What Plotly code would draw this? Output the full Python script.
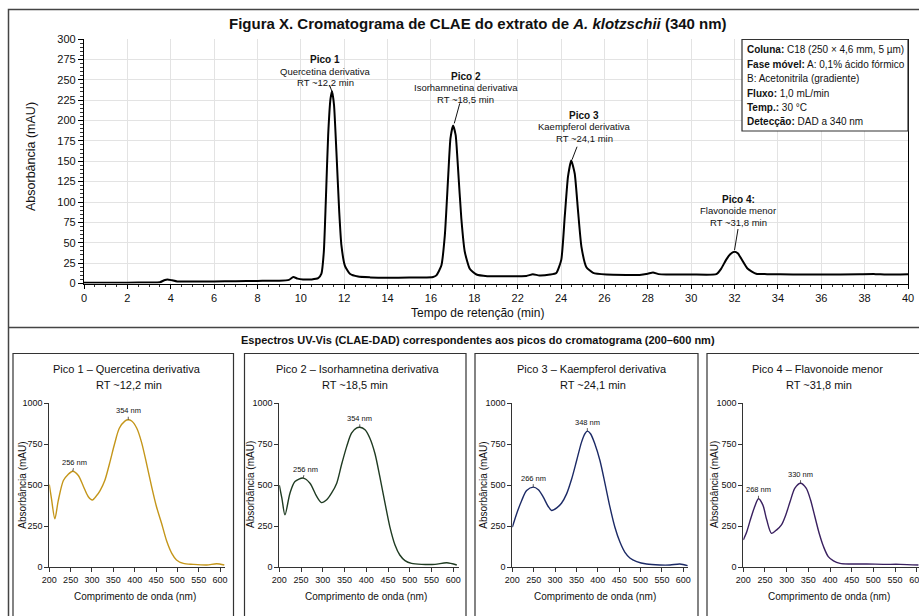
import plotly.graph_objects as go

W, H = 919, 616
FONT = "Liberation Sans, Arial, Helvetica, sans-serif"

# ---------------- data ----------------
# tick labels of the retention-time axis (as printed; note the label 20 is absent)
time_tick_labels = [0, 2, 4, 6, 8, 10, 12, 14, 16, 18, 22, 24, 26, 28, 30, 32, 34, 36, 38, 40]
# chromatogram, position along the time axis (tick index * 2) and absorbance (mAU)
ret_time = [0, 1, 2, 3, 3.5, 3.7, 3.85, 4.05, 4.3, 5, 6, 7, 8, 9, 9.45, 9.65, 9.85, 10.1, 10.5,
            10.8, 10.95, 11.06, 11.15, 11.26, 11.37, 11.44, 11.53, 11.64, 11.77, 11.87, 12.03,
            12.26, 12.64, 13.2, 14, 15, 15.6, 16.1, 16.25, 16.48, 16.64, 16.79, 16.9, 17.02,
            17.14, 17.25, 17.4, 17.56, 17.79, 18.1, 18.6, 19.5, 20.4, 20.7, 21.0, 21.5, 21.78,
            22.01, 22.17, 22.32, 22.47, 22.63, 22.78, 22.94, 23.17, 23.48, 24.09, 25.0, 25.62,
            26.0, 26.24, 26.5, 26.85, 28, 29.16, 29.38, 29.61, 29.8, 30.0, 30.15, 30.3, 30.61,
            31.0, 31.5, 32.7, 34, 35.76, 36.5, 37.0, 38]
absorbance = [1.0, 1.0, 1.0, 1.2, 1.5, 4, 5, 4, 2.5, 2.5, 2.6, 2.9, 3.2, 3.5, 4.5, 8, 6, 5, 5,
              6.5, 12, 39, 100, 182, 227, 236, 219, 162, 88, 47, 22,
              12, 8.5, 7.5, 7, 7.3, 7.3, 8, 10, 22, 59, 129, 178, 194,
              182, 141, 80, 39, 18, 11, 9, 9, 9.3, 11.4, 9.8, 11, 13,
              29, 82, 131, 151, 135, 90, 45, 20, 13, 11, 10.5, 10.5,
              12, 13.5, 11.5, 11, 11, 11.4, 18, 29, 36, 39, 37, 31, 18,
              12, 11.5, 11, 11, 11.4, 11.5, 11, 11.4]

peak_time = [11.44, 17.02, 22.47, 30.0]
peak_abs = [236, 194, 151, 39]
peak_names = ["Pico 1", "Pico 2", "Pico 3", "Pico 4:"]
peak_compounds = ["Quercetina derivativa", "Isorhamnetina derivativa",
                  "Kaempferol derivativa", "Flavonoide menor"]
peak_rt = ["RT ~12,2 min", "RT ~18,5 min", "RT ~24,1 min", "RT ~31,8 min"]

method_lines = ["<b>Coluna:</b> C18 (250 × 4,6 mm, 5 µm)",
                "<b>Fase móvel:</b> A: 0,1% ácido fórmico",
                "B: Acetonitrila (gradiente)",
                "<b>Fluxo:</b> 1,0 mL/min",
                "<b>Temp.:</b> 30 °C",
                "<b>Detecção:</b> DAD a 340 nm"]

# UV-Vis spectra (wavelength nm, absorbance mAU)
wl_1 = [200, 205, 213, 221, 233, 244, 255, 268, 280, 291, 301, 311, 319, 330, 341, 353, 364,
        377, 385, 393, 405, 416, 428, 440, 451, 463, 475, 487, 498, 514, 537, 569, 592, 610]
sp_1 = [504, 420, 295, 406, 528, 565, 585, 559, 492, 431, 410, 437, 467, 528, 630, 752, 846,
        890, 898, 890, 846, 762, 630, 488, 370, 268, 160, 85, 45, 24, 18, 14, 22, 14]
wl_2 = [200, 206, 213, 224.5, 236, 255, 270.5, 286, 297, 309, 320, 332, 343, 355, 366, 378,
        385, 397, 408, 420, 431, 443, 454, 466, 477, 489, 504, 527, 558, 585, 608]
sp_2 = [500, 420, 319, 451, 522, 543, 512, 431, 394, 411, 451, 512, 624, 736, 817, 848,
        852, 837, 787, 691, 553, 390, 248, 136, 75, 41, 24, 18, 18, 28, 14]
wl_3 = [200, 210, 222, 233.5, 249, 261, 272.5, 284, 292, 304, 315, 327, 339, 350.5, 362, 370,
        375.5, 383, 393, 405, 417, 428.5, 440, 452, 463.5, 475, 491, 514, 545, 569, 592, 610]
sp_3 = [244, 325, 407, 467, 488, 472, 427, 370, 346, 362, 390, 447, 539, 650, 762, 813,
        829, 813, 752, 650, 508, 366, 244, 152, 91, 57, 35, 20, 14, 14, 20, 10]
wl_4 = [200, 208, 215, 225, 235, 245, 254, 265, 277, 288, 298, 308, 319, 332, 345, 355, 365,
        375, 385, 396, 408, 423, 446, 485, 523, 562, 604]
sp_4 = [167, 217, 278, 360, 417, 380, 289, 207, 228, 258, 319, 400, 482, 512, 482, 411, 309,
        207, 126, 65, 39, 24, 20, 20, 18, 18, 14]

spectra_wl = [wl_1, wl_2, wl_3, wl_4]
spectra_abs = [sp_1, sp_2, sp_3, sp_4]
spectra_colors = ["#C4961A", "#1F3B22", "#1C2A66", "#3A2160"]
panel_titles = ["Pico 1 – Quercetina derivativa", "Pico 2 – Isorhamnetina derivativa",
                "Pico 3 – Kaempferol derivativa", "Pico 4 – Flavonoide menor"]
panel_rt = ["RT ~12,2 min", "RT ~18,5 min", "RT ~24,1 min", "RT ~31,8 min"]
# absorption maxima labels: (label, wavelength position, absorbance)
max_labels = [[("256 nm", 255, 585), ("354 nm", 385, 898)],
              [("256 nm", 255, 543), ("354 nm", 385, 852)],
              [("266 nm", 249, 488), ("348 nm", 375.5, 829)],
              [("268 nm", 235, 417), ("330 nm", 332, 512)]]
wl_ticks = [200, 250, 300, 350, 400, 450, 500, 550, 600]
abs_ticks = [0, 250, 500, 750, 1000]
chrom_abs_ticks = list(range(0, 301, 25))


# ---------------- helpers (layout only) ----------------
def fx(x):
    return x / W


def fy(y):
    return 1 - y / H


fig = go.Figure()

# chromatogram
fig.add_trace(go.Scatter(x=ret_time, y=absorbance, mode="lines",
                         line=dict(color="#000000", width=2, shape="spline", smoothing=0.5),
                         xaxis="x", yaxis="y", showlegend=False, hoverinfo="skip"))

# spectra
for i in range(4):
    fig.add_trace(go.Scatter(x=spectra_wl[i], y=spectra_abs[i], mode="lines",
                             line=dict(color=spectra_colors[i], width=1.4, shape="spline", smoothing=0.8),
                             xaxis=f"x{i + 2}", yaxis=f"y{i + 2}", showlegend=False, hoverinfo="skip"))

layout = dict(
    width=W, height=H, autosize=False,
    margin=dict(l=0, r=0, t=0, b=0, autoexpand=False),
    paper_bgcolor="white", plot_bgcolor="white",
    font=dict(family=FONT, color="#111111"),
    showlegend=False,
)

tick_pos = [2 * i for i in range(len(time_tick_labels))]
layout["xaxis"] = dict(
    domain=[fx(84), fx(908)], range=[0, 38], anchor="y", automargin=False,
    tickmode="array", tickvals=tick_pos, ticktext=[str(v) for v in time_tick_labels],
    ticks="outside", ticklen=4, tickcolor="#000", tickfont=dict(size=11, color="#111"),
    showline=True, linecolor="#000", linewidth=1.2, zeroline=False,
    showgrid=True, gridcolor="#e3e3e3", gridwidth=1,
    minor=dict(tickmode="linear", tick0=0, dtick=0.5, ticks="outside", ticklen=2.5,
               tickcolor="#333", showgrid=False),
)
layout["yaxis"] = dict(
    domain=[fy(283.5), fy(39)], range=[0, 300], anchor="x", automargin=False,
    tickmode="array", tickvals=chrom_abs_ticks,
    ticks="outside", ticklen=5, tickcolor="#000", tickfont=dict(size=11, color="#111"),
    showline=True, linecolor="#000", linewidth=1.2, mirror=True, zeroline=False,
    showgrid=True, gridcolor="#e3e3e3", gridwidth=1,
    minor=dict(tickmode="linear", tick0=0, dtick=5, ticks="outside", ticklen=2.5,
               tickcolor="#333", showgrid=False),
)

# spectra panel axes: (left px of 200 nm, px per nm)
panel_axes = [(49.3, 0.4268), (279.3, 0.435), (512.3, 0.4275), (743.3, 0.4335)]
for i, (x200, scale) in enumerate(panel_axes):
    right = min(x200 + 412 * scale, W)
    rng_end = 200 + (right - x200) / scale
    layout[f"xaxis{i + 2}"] = dict(
        domain=[fx(x200), fx(right)], range=[200, rng_end], anchor=f"y{i + 2}", automargin=False,
        tickmode="array", tickvals=wl_ticks, ticks="outside", ticklen=4, tickcolor="#333",
        tickfont=dict(size=9, color="#111"), showline=True, linecolor="#333", linewidth=1,
        showgrid=False, zeroline=False, ticklabeloverflow="allow",
    )
    layout[f"yaxis{i + 2}"] = dict(
        domain=[fy(567.3), fy(403)], range=[0, 1000], anchor=f"x{i + 2}", automargin=False,
        tickmode="array", tickvals=abs_ticks, ticks="outside", ticklen=4, tickcolor="#333",
        tickfont=dict(size=9, color="#111"), showline=True, linecolor="#333", linewidth=1,
        showgrid=False, zeroline=False,
    )

annotations = []


def txt(x, y, text, size, bold=False, xanchor="center", **kw):
    annotations.append(dict(x=fx(x), y=fy(y), xref="paper", yref="paper",
                            text=f"<b>{text}</b>" if bold else text, showarrow=False,
                            xanchor=xanchor, yanchor="middle",
                            font=dict(size=size, family=FONT, color="#111"), **kw))


# titles
txt(478, 23, "Figura X. Cromatograma de CLAE do extrato de <i>A. klotzschii</i> (340 nm)", 15, bold=True)
txt(478, 340, "Espectros UV-Vis (CLAE-DAD) correspondentes aos picos do cromatograma (200–600 nm)", 11, bold=True)

# axis titles main
txt(477, 313, "Tempo de retenção (min)", 12)
txt(31, 157, "Absorbância (mAU)", 12.5, textangle=-90)

# method box text
for k, line in enumerate(method_lines):
    txt(745, 49.5 + 14.5 * k, line, 10, xanchor="left")

# peak labels
block_x = [325, 466, 584, 738]
block_y = [60, 76.5, 115, 199]
for i in range(4):
    txt(block_x[i], block_y[i], peak_names[i], 10, bold=True)
    txt(block_x[i], block_y[i] + 11.5, peak_compounds[i], 9.5)
    txt(block_x[i], block_y[i] + 23, peak_rt[i], 9.5)

# panel titles and axis titles
panel_title_x = [127, 358, 592, 817]
panel_rt_x = [128.5, 355, 593, 819]
panel_xtitle_x = [134.5, 366, 595, 828.5]
panel_ytitle_x = [21.7, 250, 482.7, 714]
for i in range(4):
    txt(panel_title_x[i], 368.5, panel_titles[i], 11)
    txt(panel_rt_x[i], 384.5, panel_rt[i], 11)
    txt(panel_xtitle_x[i], 596, "Comprimento de onda (nm)", 10)
    txt(panel_ytitle_x[i], 485, "Absorbância (mAU)", 10, textangle=-90)
    for lab, wl, ab in max_labels[i]:
        annotations.append(dict(x=wl, y=ab, xref=f"x{i + 2}", yref=f"y{i + 2}", text=lab,
                                showarrow=True, arrowhead=0, arrowwidth=0.8, arrowcolor="#333",
                                ax=2 if wl < 260 and i < 2 else 0, ay=-9,
                                font=dict(size=7.5, family=FONT, color="#111")))

layout["annotations"] = annotations

shapes = []
# outer frame and divider
shapes.append(dict(type="rect", xref="paper", yref="paper", x0=fx(8.5), x1=fx(930), y0=fy(630), y1=fy(9.5),
                   line=dict(color="#444", width=1.5)))
shapes.append(dict(type="line", xref="paper", yref="paper", x0=fx(8.5), x1=fx(930), y0=fy(327.5), y1=fy(327.5),
                   line=dict(color="#444", width=1.5)))
# panel boxes
for (l, r) in [(13, 233.5), (244.5, 466), (475, 698), (707, 935)]:
    shapes.append(dict(type="rect", xref="paper", yref="paper", x0=fx(l), x1=fx(r), y0=fy(630), y1=fy(353.5),
                       line=dict(color="#333", width=1.2)))
# method box
shapes.append(dict(type="rect", xref="paper", yref="paper", x0=fx(742), x1=fx(908), y0=fy(131), y1=fy(39.5),
                   line=dict(color="#333", width=1.2), fillcolor="white", layer="above"))
# leader lines from peak labels to peak tops (pixel offsets from the peak)
leader_offsets = [((-2.5, 6), (0.5, -2)), ((6.7, 22), (1.2, 2)), ((5.8, 13.7), (0.8, 0.7)), ((3.5, 22.7), (0, 1.7))]
for i in range(4):
    (a0, b0), (a1, b1) = leader_offsets[i]
    shapes.append(dict(type="line", xref="x", yref="y", xsizemode="pixel", ysizemode="pixel",
                       xanchor=peak_time[i], yanchor=peak_abs[i], x0=a0, y0=b0, x1=a1, y1=b1,
                       line=dict(color="#111", width=1)))
layout["shapes"] = shapes

fig.update_layout(**layout)
fig.write_html("out.html", config={"responsive": False, "displayModeBar": False},
               post_script="document.body.style.margin='0';document.body.style.overflow='hidden';")
